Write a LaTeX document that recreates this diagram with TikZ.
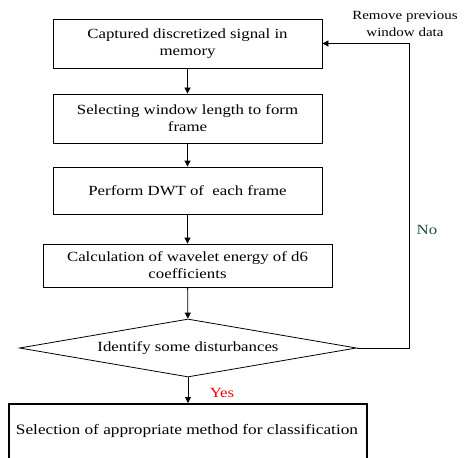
\documentclass[tikz,border=0pt]{standalone}
\usepackage{fontspec}
\setmainfont[FakeStretch=1.2]{Liberation Serif}
\usetikzlibrary{arrows.meta,shapes.geometric}
\definecolor{nogreen}{RGB}{30,80,50}
\begin{document}
\begin{tikzpicture}[x=1pt,y=-1pt,
  box/.style={draw, line width=0.8pt, minimum width=#1, align=center, inner sep=0pt, font=\fontsize{14}{17}\selectfont},
  arr/.style={line width=0.8pt, -{Triangle[width=6pt,length=6pt]}},
  lbl/.style={font=\fontsize{14}{17}\selectfont, align=center, inner sep=0pt}]
\useasboundingbox (0,0) rectangle (465,457);
\clip (0,0) rectangle (465,457);
\node[box=269pt, minimum height=49pt] (b1) at (187.5,43.5) {Captured discretized signal in\\memory};
\node[box=269pt, minimum height=49pt] (b2) at (187.5,118.5) {Selecting window length to form\\frame};
\node[box=269pt, minimum height=47pt] (b3) at (187.5,190.5) {Perform DWT of\ \ each frame};
\node[box=289pt, minimum height=43pt] (b4) at (187.5,265.5) {Calculation of wavelet energy of d6\\coefficients};
\node[draw, line width=0.8pt, diamond, aspect=5.8, minimum width=337pt, minimum height=58pt, inner sep=0pt, font=\fontsize{14}{17}\selectfont] (d) at (188,348) {Identify some disturbances};
\node[draw, line width=1.5pt, minimum width=358pt, minimum height=70pt, anchor=north, inner sep=0pt] (b5) at (188,403) {};
\node[lbl, font=\fontsize{14.4}{17}\selectfont] (t5) at (187,431) {Selection of appropriate method for classification};
\draw[arr] (b1) -- (b2);
\draw[arr] (b2) -- (b3);
\draw[arr] (b3) -- (b4);
\draw[arr] (b4) -- (d);
\draw[arr] (d.south) -- (b5.north -| d.south);
\coordinate (c1) at (409,348);
\coordinate (c2) at (409,43.5);
\draw[arr] (d.east) -- (c1) -- (c2) -- (b1.east);
\node[lbl, font=\fontsize{12.5}{17}\selectfont] (rm) at (405,23.5) {Remove previous\\window data};
\node[lbl, text=nogreen] (no) at (427,230) {No};
\node[lbl, text=red] (yes) at (222,393) {Yes};
\end{tikzpicture}
\end{document}
